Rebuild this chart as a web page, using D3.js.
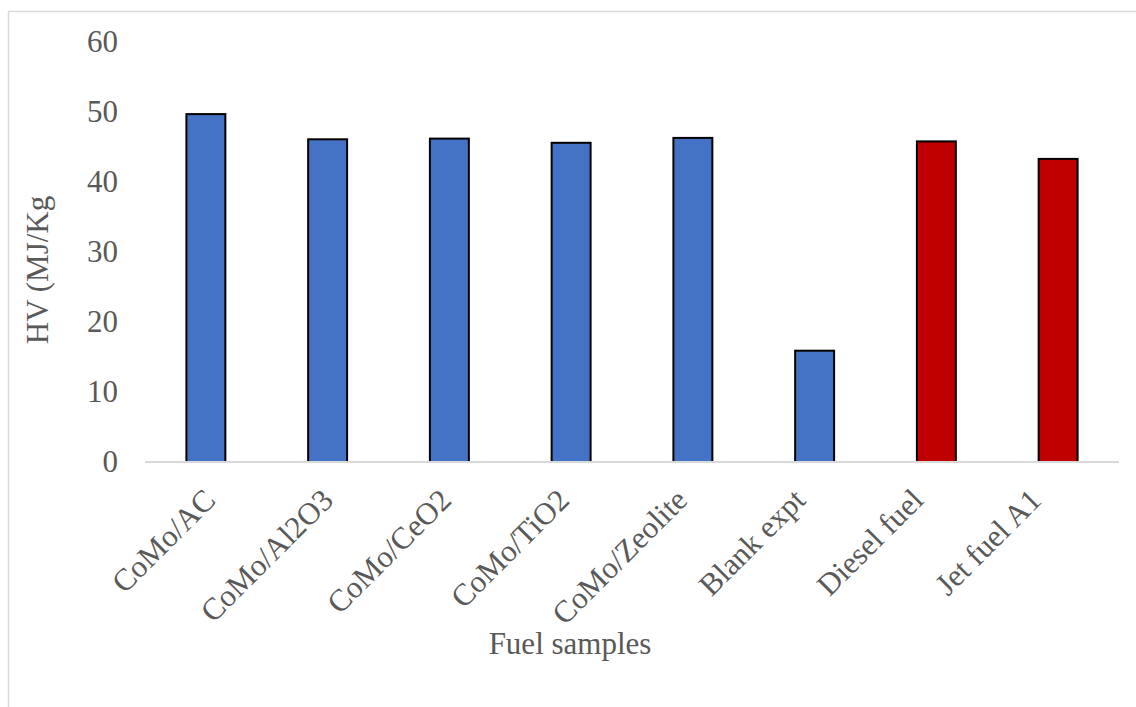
<!DOCTYPE html>
<html>
<head>
<meta charset="utf-8">
<script src="https://cdn.jsdelivr.net/npm/d3@7"></script>
<style>
  html, body { margin: 0; padding: 0; background: #fff; }
  svg { display: block; }
  text { font-family: "Liberation Serif", "Times New Roman", serif; fill: #595959; }
</style>
</head>
<body>
<svg id="chart" width="1136" height="707"></svg>
<script>
// Heating value of fuel samples
const categories = ["CoMo/AC", "CoMo/Al2O3", "CoMo/CeO2", "CoMo/TiO2", "CoMo/Zeolite", "Blank expt", "Diesel fuel", "Jet fuel A1"];
const hvValues = [49.7, 46.1, 46.2, 45.6, 46.3, 15.9, 45.8, 43.3];
const barColors = ["#4472C4", "#4472C4", "#4472C4", "#4472C4", "#4472C4", "#4472C4", "#C00000", "#C00000"];
const yTicks = [0, 10, 20, 30, 40, 50, 60];
const xTitle = "Fuel samples";
const yTitle = "HV (MJ/Kg";

const svg = d3.select("#chart");
const W = 1136, H = 707;
const plot = { left: 145, right: 1119, top: 42, bottom: 462 };

// outer chart border
svg.append("rect")
  .attr("x", 8.5).attr("y", 11.5)
  .attr("width", W + 20).attr("height", H + 20)
  .attr("fill", "none").attr("stroke", "#d9d9d9").attr("stroke-width", 1.5);

const x = d3.scaleBand().domain(categories).range([plot.left, plot.right]).paddingInner(0.68).paddingOuter(0.34);
const y = d3.scaleLinear().domain([0, 60]).range([plot.bottom, plot.top]);
// anchor points for the slanted category labels
const labelX = d3.scalePoint().domain(categories).range([217, 1043]);

// value axis labels (no line, no ticks)
const yAxis = d3.axisLeft(y).tickValues(yTicks).tickSize(0).tickPadding(0).tickFormat(d3.format("d"));
const gy = svg.append("g").attr("transform", `translate(118,0)`).call(yAxis);
gy.select(".domain").remove();
gy.selectAll("text").style("font-size", "31px").style("font-family", "'Liberation Serif', serif").attr("fill", "#595959").attr("dy", "0.32em");

// bars
svg.append("g").selectAll("rect")
  .data(categories)
  .join("rect")
  .attr("x", d => x(d))
  .attr("y", (d, i) => y(hvValues[i]))
  .attr("width", x.bandwidth())
  .attr("height", (d, i) => y(0) - y(hvValues[i]))
  .attr("fill", (d, i) => barColors[i])
  .attr("stroke", "#000")
  .attr("stroke-width", 2);

// category axis line
const xAxis = d3.axisBottom(x).tickSize(0).tickPadding(0).tickFormat("");
const gx = svg.append("g").attr("transform", `translate(0,${plot.bottom})`).call(xAxis);
gx.select(".domain").attr("stroke", "#d9d9d9").attr("stroke-width", 2)
  .attr("d", `M${plot.left},0H${plot.right}`);

// slanted category labels
svg.append("g").selectAll("text")
  .data(categories)
  .join("text")
  .attr("text-anchor", "end")
  .attr("transform", d => `translate(${labelX(d)},${plot.bottom + 40}) rotate(-45)`)
  .style("font-size", "31px")
  .text(d => d);

// axis titles
svg.append("text")
  .attr("x", 570).attr("y", 654)
  .attr("text-anchor", "middle")
  .style("font-size", "31px")
  .text(xTitle);

svg.append("text")
  .attr("transform", "translate(48,270) rotate(-90)")
  .attr("text-anchor", "middle")
  .style("font-size", "31px")
  .text(yTitle);
</script>
</body>
</html>
